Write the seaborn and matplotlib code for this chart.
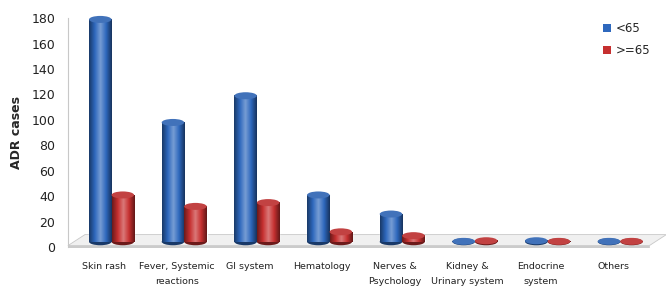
import numpy as np
import pandas as pd
import matplotlib
matplotlib.use("Agg")
import matplotlib.pyplot as plt
import seaborn as sns
from matplotlib.patches import Ellipse, Polygon, Patch
from matplotlib.colors import LinearSegmentedColormap

categories = ["Skin rash", "Fever, Systemic\nreactions", "GI system", "Hematology",
              "Nerves &\nPsychology", "Kidney &\nUrinary system", "Endocrine\nsystem", "Others"]
under65 = [179, 98, 119, 41, 26, 3, 5, 4]
over65 = [41, 32, 35, 12, 9, 5, 1, 1]
series = ["<65", ">=65"]
colors = {"<65": "#2e68bd", ">=65": "#c63030"}

df = pd.DataFrame({
    "cat": categories * 2,
    "val": under65 + over65,
    "grp": [series[0]] * len(categories) + [series[1]] * len(categories),
})

sns.set_style("white")
fig = plt.figure(figsize=(6.66, 2.88), dpi=100)
ax = fig.add_axes([0.102, 0.142, 0.873, 0.795])

sns.barplot(data=df, x="cat", y="val", hue="grp", palette=colors, ax=ax,
            width=0.62, saturation=1, legend=False, zorder=3)

n = len(categories)
ax.set_ylim(0, 180)
ax.set_xlim(-0.5, n - 0.5)
ax.set_yticks(range(0, 181, 20))
ax.tick_params(axis="y", labelsize=9, length=3, width=0.6, pad=6, color="#c8c8c8")
for lab in ax.get_yticklabels():
    lab.set_color("#222222")
ax.set_xticks(range(n))
ax.set_xticklabels(categories, fontsize=6.8, color="#222222", linespacing=1.75)
ax.tick_params(axis="x", length=0, pad=11)
ax.set_xticks(np.arange(-0.5, n), minor=True)
ax.tick_params(axis="x", which="minor", length=4, width=0.6, color="#c8c8c8")
ax.set_xlabel("")
ax.set_ylabel("ADR cases", fontsize=9, fontweight="bold", labelpad=6)
for s in ["top", "right", "bottom"]:
    ax.spines[s].set_visible(False)
ax.spines["left"].set_color("#c8c8c8")
ax.spines["left"].set_linewidth(0.8)

fig.canvas.draw()
trans = ax.transData
ppy = trans.transform((0, 1))[1] - trans.transform((0, 0))[1]
ppx = trans.transform((1, 0))[0] - trans.transform((0, 0))[0]

# floor slab
fh = 11.0 / ppy
fx = 17.0 / ppx
front_h = 1.5 / ppy
floor_top = Polygon([(-0.5, front_h), (n - 0.5, front_h), (n - 0.5 + fx, front_h + fh),
                     (-0.5 + fx, front_h + fh)], closed=True, facecolor="#f0f0f0",
                    edgecolor="#c8c8c8", lw=0.6, zorder=1, clip_on=False)
floor_front = Polygon([(-0.5, 0), (n - 0.5, 0), (n - 0.5, front_h), (-0.5, front_h)],
                      closed=True, facecolor="#d0d0d0", edgecolor="#c0c0c0", lw=0.5,
                      zorder=1, clip_on=False)
ax.add_patch(floor_top)
ax.add_patch(floor_front)

# cylinder look
cap_h = 7.0 / ppy
base = front_h + fh * 0.35
shift = 0.1
for p in list(ax.patches):
    if p is floor_top or p is floor_front:
        continue
    x0, w, h = p.get_x(), p.get_width(), p.get_height()
    if w <= 0 or w > 1:
        continue
    x0 = x0 + shift
    p.set_x(x0)
    fc = np.array(p.get_facecolor()[:3])
    dark = fc * 0.55
    light = np.clip(fc + (1 - fc) * 0.35, 0, 1)
    cmap = LinearSegmentedColormap.from_list("c", [dark, fc, light, fc, dark * 0.9])
    p.set_y(base)
    p.set_height(max(h - base, 0.01))
    grad = np.linspace(0, 1, 64).reshape(1, -1)
    im = ax.imshow(grad, cmap=cmap, aspect="auto",
                   extent=(x0, x0 + w, base, max(h, base + 0.01)), zorder=3.1, clip_on=False)
    im.set_clip_path(p)
    ax.add_patch(Ellipse((x0 + w / 2, base), w, cap_h, facecolor=dark, edgecolor="none",
                         zorder=3.0, clip_on=False))
    top = max(h, base + 0.3)
    ax.add_patch(Ellipse((x0 + w / 2, top), w, cap_h, facecolor=fc * 0.85 + 0.1,
                         edgecolor="none", zorder=3.2, clip_on=False))
ax.set_xlim(-0.5, n - 0.5)
ax.set_ylim(0, 180)

handles = [Patch(facecolor=colors[s], edgecolor="none") for s in series]
ax.legend(handles, series, loc="upper right", bbox_to_anchor=(1.02, 1.03), frameon=False,
          fontsize=8.5, handlelength=0.7, handleheight=0.7, handletextpad=0.4,
          labelspacing=0.8)

fig.savefig("out.png", dpi=100)
